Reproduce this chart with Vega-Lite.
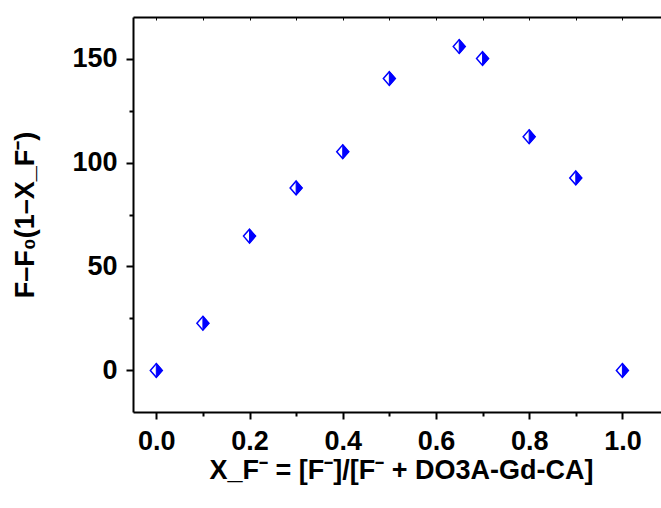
{
  "$schema": "https://vega.github.io/schema/vega-lite/v6.json",
  "autosize": {"type": "none"},
  "padding": {"left": 133, "top": 17, "right": 0, "bottom": 96},
  "width": 536,
  "height": 395,
  "background": "white",
  "data": {"values": [
    {"x": 0.0, "y": 0},
    {"x": 0.1, "y": 22.7},
    {"x": 0.2, "y": 64.6},
    {"x": 0.3, "y": 87.8},
    {"x": 0.4, "y": 105.2},
    {"x": 0.5, "y": 140.4},
    {"x": 0.65, "y": 155.8},
    {"x": 0.7, "y": 150.0},
    {"x": 0.8, "y": 112.4},
    {"x": 0.9, "y": 92.6},
    {"x": 1.0, "y": 0}
  ]},
  "config": {
    "view": {"stroke": null},
    "axis": {
      "grid": false,
      "domainColor": "black",
      "domainWidth": 2,
      "tickColor": "black",
      "tickWidth": 2,
      "labelFont": "Liberation Sans",
      "labelFontWeight": "bold",
      "labelFontSize": 27,
      "labelColor": "black",
      "titleFont": "Liberation Sans",
      "titleFontWeight": "bold",
      "titleFontSize": 27,
      "titleColor": "black"
    }
  },
  "layer": [
    {
      "mark": {"type": "point", "shape": "M0,-1.15L1,0L0,1.15L-1,0Z", "filled": true, "fill": "white", "stroke": "blue", "strokeWidth": 1.5, "size": 144, "opacity": 1},
      "encoding": {
        "x": {"field": "x", "type": "quantitative",
          "scale": {"domain": [-0.05, 1.1], "nice": false, "zero": false},
          "axis": {"orient": "bottom", "title": "X_F⁻ = [F⁻]/[F⁻ + DO3A-Gd-CA]",
            "values": [0, 0.1, 0.2, 0.3, 0.4, 0.5, 0.6, 0.7, 0.8, 0.9, 1.0],
            "labelExpr": "round(datum.value*10) % 2 == 0 ? format(datum.value, '.1f') : ''",
            "tickSize": {"condition": {"test": "round(datum.value*10) % 2 == 0", "value": 7}, "value": 4},
            "labelPadding": 9, "titlePadding": 3, "labelFlush": false}},
        "y": {"field": "y", "type": "quantitative",
          "scale": {"domain": [-20, 170], "nice": false, "zero": false},
          "axis": {"title": "F–F₀(1–X_F⁻)",
            "values": [0, 25, 50, 75, 100, 125, 150],
            "labelExpr": "datum.value % 50 == 0 ? datum.label : ''",
            "tickSize": {"condition": {"test": "datum.value % 50 == 0", "value": 7}, "value": 4},
            "labelPadding": 9, "titlePadding": 32}}
      }
    },
    {
      "mark": {"type": "point", "shape": "M0,-1.15L1,0L0,1.15Z", "filled": true, "fill": "blue", "stroke": "blue", "strokeWidth": 1, "size": 144, "opacity": 1},
      "encoding": {
        "x": {"field": "x", "type": "quantitative",
          "scale": {"domain": [-0.05, 1.1], "nice": false, "zero": false},
          "axis": {"orient": "top", "title": null, "labels": false,
            "values": [0, 0.1, 0.2, 0.3, 0.4, 0.5, 0.6, 0.7, 0.8, 0.9, 1.0],
            "tickSize": -3, "tickWidth": 1}},
        "y": {"field": "y", "type": "quantitative",
          "scale": {"domain": [-20, 170], "nice": false, "zero": false}}
      }
    }
  ],
  "resolve": {"axis": {"x": "independent"}}
}
